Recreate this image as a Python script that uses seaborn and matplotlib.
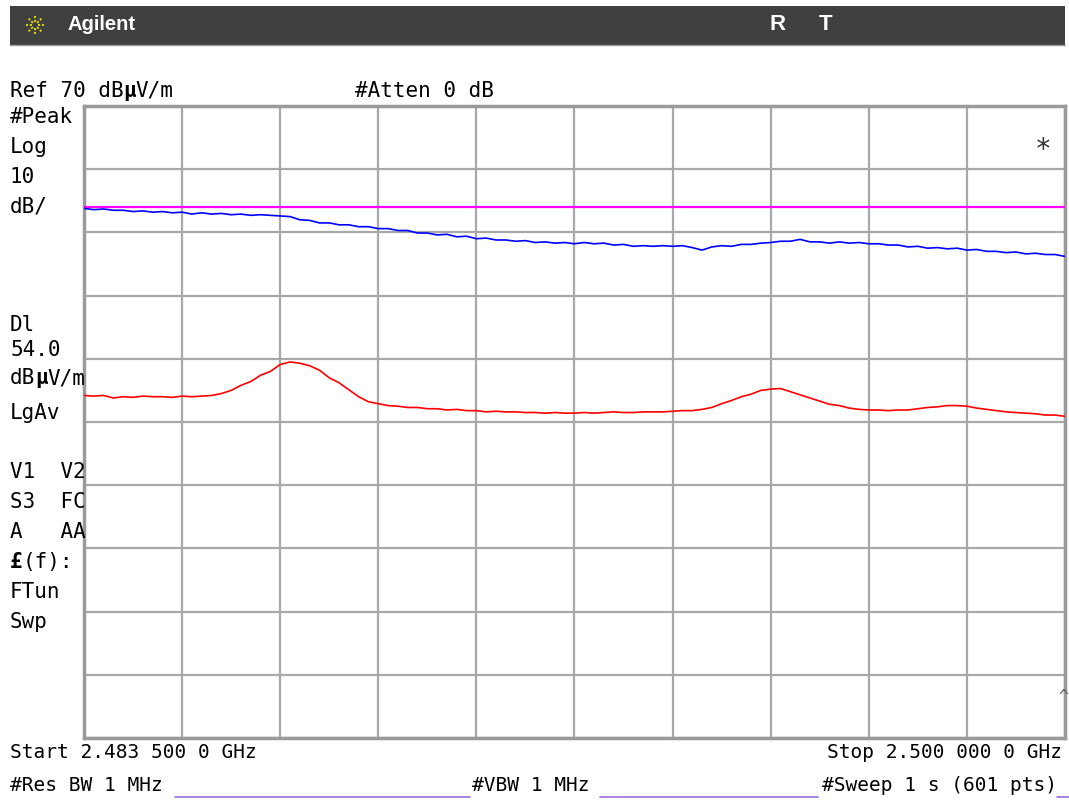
import numpy as np
import pandas as pd
import seaborn as sns
import matplotlib.pyplot as plt
from matplotlib.lines import Line2D
from matplotlib.patches import Rectangle

# sweep settings
start_ghz = 2.4835
stop_ghz = 2.5
ref_level = 70
db_per_div = 10
display_line = 54.0

# trace 1 (peak, blue) in dBuV/m
peak_trace = [53.8, 53.6, 53.7, 53.5, 53.5, 53.3, 53.4, 53.2, 53.3, 53.1, 53.2, 52.9, 53.1, 52.9, 53.0,
              52.8, 52.9, 52.7, 52.8, 52.7, 52.6, 52.5, 52.0, 51.9, 51.5, 51.5, 51.2, 51.2, 50.9, 50.9,
              50.6, 50.6, 50.3, 50.3, 49.9, 49.9, 49.6, 49.7, 49.3, 49.4, 49.0, 49.1, 48.8, 48.8, 48.6,
              48.7, 48.4, 48.5, 48.3, 48.4, 48.2, 48.4, 48.2, 48.3, 48.0, 48.1, 47.8, 47.9, 47.8, 47.9,
              47.8, 47.9, 47.6, 47.2, 47.7, 47.9, 47.8, 48.1, 48.1, 48.3, 48.4, 48.6, 48.6, 48.9, 48.5,
              48.5, 48.3, 48.5, 48.3, 48.4, 48.2, 48.2, 48.0, 48.0, 47.7, 47.8, 47.5, 47.6, 47.4, 47.5,
              47.2, 47.3, 47.0, 47.0, 46.8, 46.9, 46.6, 46.7, 46.5, 46.5, 46.2]

# trace 2 (average, red)
avg_trace = [24.2, 24.1, 24.2, 23.8, 24.0, 23.9, 24.1, 24.0, 24.0, 23.9, 24.1, 24.0, 24.1, 24.2, 24.5,
             25.0, 25.8, 26.4, 27.4, 28.0, 29.1, 29.5, 29.3, 28.9, 28.2, 27.0, 26.2, 25.1, 24.0, 23.2,
             22.9, 22.6, 22.5, 22.3, 22.3, 22.1, 22.1, 21.9, 22.0, 21.8, 21.8, 21.6, 21.7, 21.6, 21.6,
             21.5, 21.5, 21.4, 21.5, 21.4, 21.4, 21.5, 21.4, 21.5, 21.6, 21.5, 21.5, 21.6, 21.6, 21.6,
             21.7, 21.8, 21.8, 22.0, 22.3, 22.9, 23.4, 24.0, 24.4, 25.0, 25.2, 25.3, 24.8, 24.3, 23.8,
             23.3, 22.8, 22.6, 22.2, 22.0, 21.9, 21.9, 21.8, 21.9, 21.9, 22.1, 22.3, 22.4, 22.6, 22.6,
             22.5, 22.2, 22.0, 21.8, 21.6, 21.5, 21.4, 21.3, 21.1, 21.1, 20.9]

left_labels = ["#Peak", "Log", "10", "dB/"]
left_labels2 = ["LgAv", "", "V1  V2", "S3  FC", "A   AA"]
left_labels3 = ["FTun", "Swp"]

df_peak = pd.DataFrame({"f": np.linspace(start_ghz, stop_ghz, len(peak_trace)), "level": peak_trace})
df_avg = pd.DataFrame({"f": np.linspace(start_ghz, stop_ghz, len(avg_trace)), "level": avg_trace})

sns.set_style("white")
W, H = 1069, 805
fig = plt.figure(figsize=(W / 100, H / 100), dpi=100)
fig.patch.set_facecolor("white")

MONO = "DejaVu Sans Mono"


def px(x, y):
    return x / W, 1 - y / H


def seg_text(x, y, parts, size=15):
    # monospace: step by character advance
    adv = 0.602 * size * 100 / 72
    for s, w in parts:
        fx, fy = px(x, y)
        fig.text(fx, fy, s, fontsize=size, family=MONO, weight=w, va="center", ha="left", color="black")
        x += adv * len(s)


# header bar
fig.patches.append(Rectangle(px(10, 45), 1055 / W, 39 / H, transform=fig.transFigure,
                             facecolor="#404040", edgecolor="none"))
fig.lines.append(Line2D([10 / W, 1065 / W], [1 - 45.5 / H] * 2, transform=fig.transFigure,
                        color="#9a9a9a", lw=1))
for k in range(8):
    a = k * np.pi / 4
    fig.lines.append(Line2D([(35 + 3 * np.cos(a)) / W, (35 + 9 * np.cos(a)) / W],
                            [1 - (25 + 3 * np.sin(a)) / H, 1 - (25 + 9 * np.sin(a)) / H],
                            transform=fig.transFigure, color="#e8e000", lw=1.3, ls=(0, (1.2, 1))))
fig.text(*px(68, 25), "Agilent", color="white", fontsize=14.5, weight="bold",
         family="Liberation Sans", va="center")
fig.text(*px(778, 25), "R", color="white", fontsize=16, weight="bold", family="Liberation Sans",
         va="center", ha="center")
fig.text(*px(826, 25), "T", color="white", fontsize=16, weight="bold", family="Liberation Sans",
         va="center", ha="center")

# screen annotations
seg_text(10, 91, [("Ref 70 dB", "normal"), ("µ", "bold"), ("V/m", "normal")])
seg_text(355, 91, [("#Atten 0 dB", "normal")])
for i, s in enumerate(left_labels):
    seg_text(10, 117 + 30 * i, [(s, "normal")])
seg_text(10, 325, [("Dl", "normal")])
seg_text(10, 350, [("54.0", "normal")])
seg_text(10, 378, [("dB", "normal"), ("µ", "bold"), ("V/m", "normal")])
for i, s in enumerate(left_labels2):
    if s:
        seg_text(10, 413 + 30 * i - (0 if i == 0 else 1), [(s, "normal")])
seg_text(10, 562, [("£", "bold"), ("(f):", "normal")])
for i, s in enumerate(left_labels3):
    seg_text(10, 592 + 30 * i, [(s, "normal")])

seg_text(10, 752, [("Start 2.483 500 0 GHz", "normal")], size=14)
fig.text(*px(1062, 752), "Stop 2.500 000 0 GHz", fontsize=14, family=MONO, va="center", ha="right",
         color="black")
seg_text(10, 785, [("#Res BW 1 MHz", "normal")], size=14)
seg_text(472, 785, [("#VBW 1 MHz", "normal")], size=14)
seg_text(822, 785, [("#Sweep 1 s (601 pts)", "normal")], size=14)
for x0, x1 in [(175, 470), (600, 818), (1057, 1069)]:
    fig.lines.append(Line2D([x0 / W, x1 / W], [1 - 797 / H] * 2, transform=fig.transFigure,
                            color="#9370db", lw=1.2))

# graticule
ax = fig.add_axes([84 / W, 1 - 738 / H, 981 / W, 632 / H])
ax.set_facecolor("white")
ax.set_xlim(start_ghz, stop_ghz)
ax.set_ylim(ref_level - 10 * db_per_div, ref_level)
ax.set_xticks(np.linspace(start_ghz, stop_ghz, 11))
ax.set_yticks(np.arange(ref_level - 10 * db_per_div, ref_level + 1, db_per_div))
ax.grid(True, color="#a8a8a8", lw=1.6)
ax.tick_params(length=0, labelbottom=False, labelleft=False)
for sp in ax.spines.values():
    sp.set_color("#9a9a9a")
    sp.set_linewidth(2.5)

ax.axhline(display_line, color="#ff00ff", lw=1.6, zorder=3)
sns.lineplot(data=df_peak, x="f", y="level", ax=ax, color="#0000ff", lw=1.2, zorder=4)
sns.lineplot(data=df_avg, x="f", y="level", ax=ax, color="#ff0000", lw=1.2, zorder=4)
ax.set_xlabel("")
ax.set_ylabel("")

ax.text(0.978, 0.93, "*", transform=ax.transAxes, fontsize=20, family=MONO, ha="center", va="center",
        color="#303030")
ax.text(0.998, 0.065, "^", transform=ax.transAxes, fontsize=12, family=MONO, ha="center", va="center",
        color="#606060")

fig.savefig("out.png", dpi=100, facecolor="white")
